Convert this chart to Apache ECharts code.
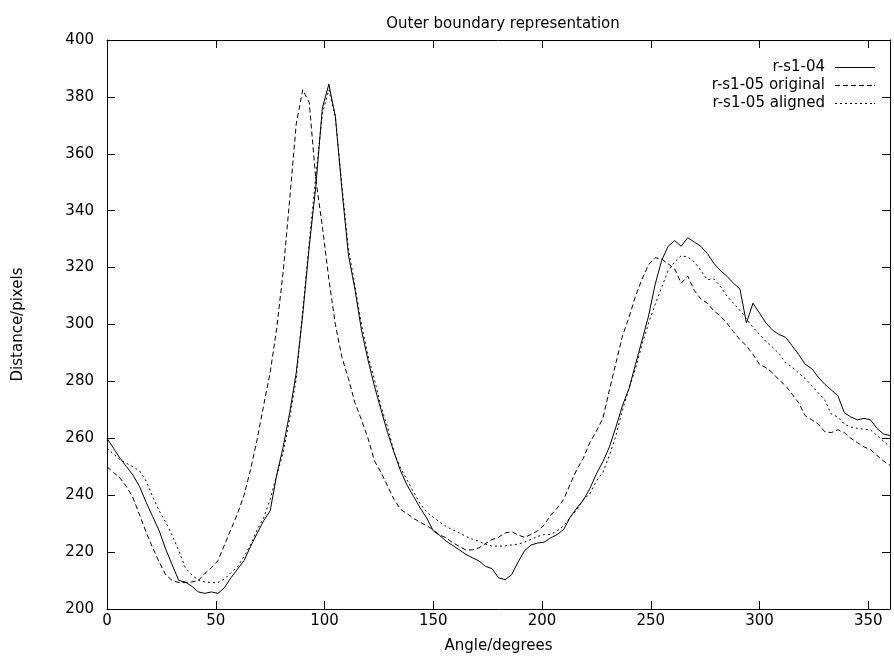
<!DOCTYPE html>
<html>
<head>
<meta charset="utf-8">
<script src="https://cdn.jsdelivr.net/npm/echarts@6/dist/echarts.min.js"></script>
<style>
html,body{margin:0;padding:0;background:#fff;}
#chart{width:894px;height:659px;}
</style>
</head>
<body>
<div id="chart"></div>
<script>
var angles = [
  0, 3, 6, 9, 12, 15, 18, 21, 24, 27,
  30, 33, 36, 39, 42, 45, 48, 51, 54, 57,
  60, 63, 66, 69, 72, 75, 78, 81, 84, 87,
  90, 93, 96, 99, 102, 105, 108, 111, 114, 117,
  120, 123, 126, 129, 132, 135, 138, 141, 144, 147,
  150, 153, 156, 159, 162, 165, 168, 171, 174, 177,
  180, 183, 186, 189, 192, 195, 198, 201, 204, 207,
  210, 213, 216, 219, 222, 225, 228, 231, 234, 237,
  240, 243, 246, 249, 252, 255, 258, 261, 264, 267,
  270, 273, 276, 279, 282, 285, 288, 291, 294, 297,
  300, 303, 306, 309, 312, 315, 318, 321, 324, 327,
  330, 333, 336, 339, 342, 345, 348, 351, 354, 357,
  360
];
var rs104 = [
  260, 256.5, 253, 250, 247, 243, 237.5, 232.5, 227.5, 221,
  215.5, 210, 209.5, 208, 206, 205.5, 206, 205.5, 207.5, 211,
  214, 217, 222, 226.5, 231, 234.5, 247, 257, 269, 283,
  303.5, 327.5, 348.5, 376, 384.5, 373, 347.5, 324.5, 312.3, 298,
  287.5, 278.2, 270, 262, 255, 248.5, 243.5, 239.5, 235.5, 232,
  227.5, 225.8, 223.8, 222.3, 220.8, 219.2, 218, 216.9, 215, 214.2,
  211, 210.3, 212, 216.5, 220.5, 222.5, 223.2, 223.5, 225, 226.2,
  228, 232.3, 235.5, 238.3, 242.3, 247.5, 251.8, 257, 264, 271.5,
  277.5, 286, 294.5, 303, 314, 322.5, 327.5, 329.5, 327.5, 330.5,
  329, 327.5, 325, 321.5, 319, 317, 314.5, 312.5, 300.5, 307.5,
  304, 300.5, 298, 296.5, 295.5, 292.5, 289.5, 286, 284.5, 281.5,
  279, 277, 275, 269, 267.5, 266.5, 267, 266.5, 263.5, 261.5,
  261
];
var rs105Original = [
  250, 248, 246, 243, 239, 233, 227, 221.5, 216.5, 212,
  210, 209.3, 209.3, 209.5, 210, 212.5, 214.5, 217, 222.5, 228,
  233.5, 240, 249, 259.5, 271.5, 283, 298.5, 318.5, 344, 370.5,
  382.5, 378, 351, 334.5, 316, 300, 288.5, 281, 272.5, 266.5,
  260, 252, 248, 243.2, 238.5, 235, 233.5, 231.8, 230.5, 229.3,
  227.8, 226, 225, 223.3, 222, 220.7, 220.8, 221.5, 223, 224.4,
  225.2, 226.7, 227.2, 226, 225.2, 226.2, 227.5, 229.5, 233, 235.5,
  238.5, 244, 249, 253, 258.5, 262.5, 267, 277, 286.5, 296,
  302.5, 310, 316, 321, 323.5, 323, 321.3, 319.5, 314.5, 317,
  312, 309, 307.5, 304.8, 303, 300.5, 297.5, 294.7, 292.5, 289.5,
  286, 284.8, 283, 280.5, 278.5, 275.5, 272.5, 268, 266.5, 265,
  262.3, 262, 263, 262, 260, 258.5, 257, 256, 254, 252,
  250.5
];
var rs105Aligned = [
  256.5, 254.5, 252.5, 251.2, 250, 248.5, 245, 239.5, 234.5, 230.5,
  225.8, 220.5, 214.5, 212, 210.2, 209.5, 209.3, 209.3, 210.5, 212.8,
  214.8, 218.5, 222.5, 227.8, 232, 238.5, 247, 255, 267, 281,
  305, 329, 352, 374, 382.5, 373, 349, 326.5, 313.5, 300,
  289, 280.5, 271, 264, 255, 249.5, 245.3, 241, 237, 234,
  232.3, 230.5, 229, 227.8, 226.8, 225.5, 224.5, 223.8, 222.8, 222.1,
  222.1, 222.2, 222.5, 222.8, 223.5, 224.5, 225.5, 226.2, 226.2, 227.5,
  229.3, 232.3, 234.8, 238.5, 240.5, 245, 248, 254, 261, 270,
  277.5, 284.5, 293, 300.5, 307, 313, 319, 322, 324.2, 323.7,
  322, 319, 315.8, 316, 313.5, 310, 307.5, 305, 302, 299,
  296.5, 294, 292, 289.8, 286.5, 285, 283, 281, 278.5, 276,
  273.5, 268.5, 267.5, 265, 264, 263.5, 263.2, 263, 261, 259,
  257
];
var seriesNames = ['r-s1-04', 'r-s1-05 original', 'r-s1-05 aligned'];
var xTicks = { min: 0, max: 360, interval: 50 };
var yTicks = { min: 200, max: 400, interval: 20 };

function pairs(vals) {
  return angles.map(function (a, i) { return [a, vals[i]]; });
}

var FONT = 'DejaVu Sans';
var FS = 15;
var chart = echarts.init(document.getElementById('chart'), null, { renderer: 'canvas' });

function axisCommon() {
  return {
    axisLine: { show: true, onZero: false, lineStyle: { color: '#000', width: 1 } },
    axisTick: { show: true, inside: true, length: 8, lineStyle: { color: '#000', width: 1 } },
    splitLine: { show: false }
  };
}

var xBottom = Object.assign(axisCommon(), {
  type: 'value', position: 'bottom',
  min: xTicks.min, max: xTicks.max, interval: xTicks.interval,
  name: 'Angle/degrees', nameLocation: 'middle', nameGap: 30,
  nameTextStyle: { color: '#000', fontFamily: FONT, fontSize: FS },
  axisLabel: { color: '#000', fontFamily: FONT, fontSize: FS, margin: 5, showMaxLabel: false }
});
var xTop = Object.assign(axisCommon(), {
  type: 'value', position: 'top',
  min: xTicks.min, max: xTicks.max, interval: xTicks.interval,
  axisLabel: { show: false }
});
var yLeft = Object.assign(axisCommon(), {
  type: 'value', position: 'left',
  min: yTicks.min, max: yTicks.max, interval: yTicks.interval,
  name: 'Distance/pixels', nameLocation: 'middle', nameGap: 81, nameRotate: 90,
  nameTextStyle: { color: '#000', fontFamily: FONT, fontSize: FS },
  axisLabel: { color: '#000', fontFamily: FONT, fontSize: FS, margin: 13 }
});
var yRight = Object.assign(axisCommon(), {
  type: 'value', position: 'right',
  min: yTicks.min, max: yTicks.max, interval: yTicks.interval,
  axisLabel: { show: false }
});

var lineTypes = ['solid', [5, 3], [2, 3]];
var legendIcons = [
  'path://M0,0H40V1H0Z',
  'path://M0,0h5v1h-5zM8,0h5v1h-5zM16,0h5v1h-5zM24,0h5v1h-5zM32,0h5v1h-5zM39,0h1v1h-1z',
  'path://M0,0h2v1h-2zM5,0h2v1h-2zM10,0h2v1h-2zM15,0h2v1h-2zM20,0h2v1h-2zM25,0h2v1h-2zM30,0h2v1h-2zM35,0h2v1h-2zM39,0h1v1h-1z'
];
var dataSets = [rs104, rs105Original, rs105Aligned];

var series = seriesNames.map(function (n, i) {
  return {
    name: n, type: 'line', xAxisIndex: 0, yAxisIndex: 0,
    data: pairs(dataSets[i]),
    symbol: 'none', showSymbol: false, smooth: false,
    lineStyle: { color: '#000', width: 1, type: lineTypes[i] },
    itemStyle: { color: '#000' },
    animation: false
  };
});

chart.setOption({
  animation: false,
  backgroundColor: '#fff',
  title: {
    text: 'Outer boundary representation',
    left: 498, top: 12, textAlign: 'center',
    textStyle: { color: '#000', fontFamily: FONT, fontSize: FS, fontWeight: 'normal' }
  },
  legend: {
    orient: 'vertical', right: 14, top: 55, align: 'right',
    itemWidth: 40, itemHeight: 1, itemGap: 3,
    selectedMode: false,
    data: seriesNames.map(function (n, i) {
      return { name: n, icon: legendIcons[i], itemStyle: { color: '#000', opacity: 1 } };
    }),
    textStyle: { color: '#000', fontFamily: FONT, fontSize: FS, lineHeight: 15, padding: [0, 5, 0, 0] }
  },
  grid: { left: 107, right: 4, top: 40, bottom: 47, containLabel: false },
  xAxis: [xBottom, xTop],
  yAxis: [yLeft, yRight],
  series: series
});
</script>
</body>
</html>
